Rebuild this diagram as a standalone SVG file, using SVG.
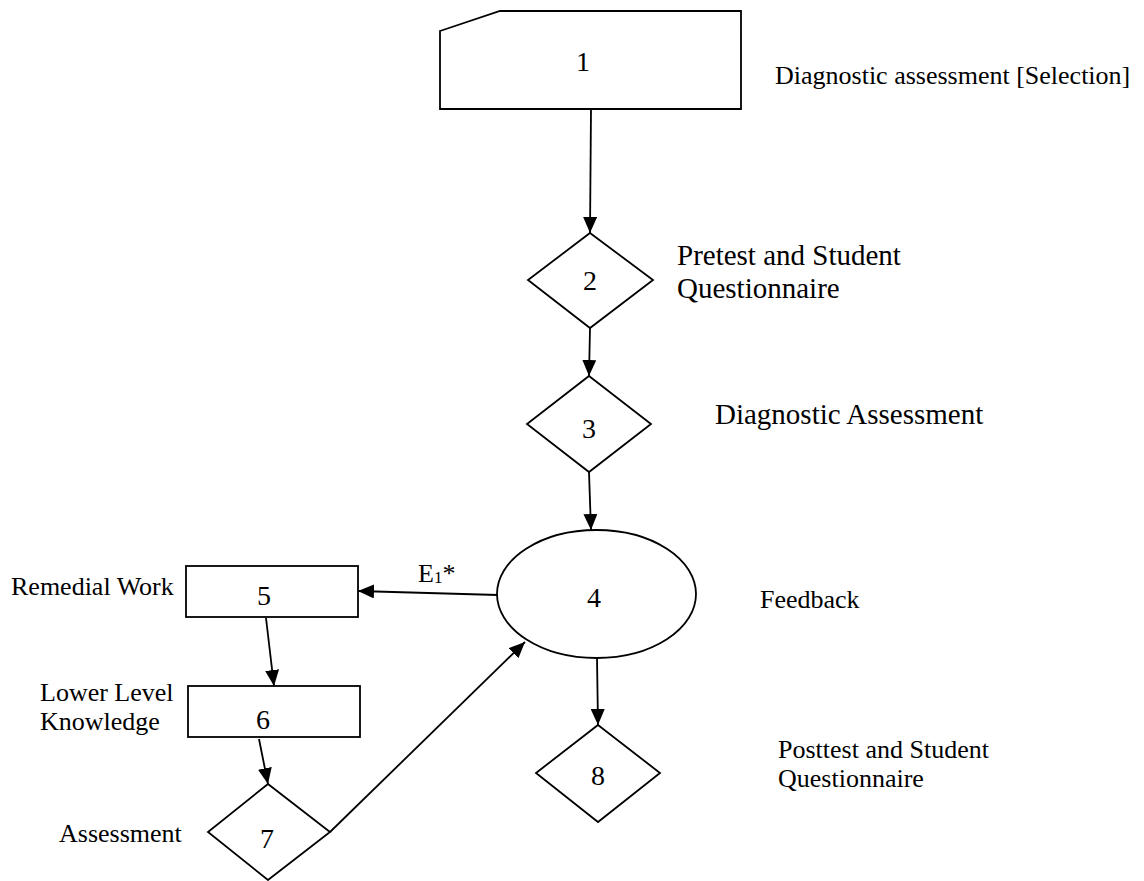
<svg xmlns="http://www.w3.org/2000/svg" width="1144" height="881" viewBox="0 0 1144 881">
<style>
.s{fill:#fff;stroke:#000;stroke-width:1.8}
.c{fill:none;stroke:#000;stroke-width:1.8}
.n{font-family:"Liberation Serif","Times New Roman",serif;font-size:28px;text-anchor:middle;fill:#000}
.t{font-family:"Liberation Serif","Times New Roman",serif;font-size:26px;fill:#000}
.b{font-size:29px}
</style>
<defs>
<marker id="ah" markerUnits="userSpaceOnUse" markerWidth="16" markerHeight="14" refX="16" refY="7" orient="auto">
<path d="M0,0 L16,7 L0,14 z" fill="#000"/>
</marker>
</defs>
<rect width="1144" height="881" fill="#fff"/>
<g id="connectors">
<line class="c" x1="591" y1="109" x2="590" y2="233" marker-end="url(#ah)"/>
<line class="c" x1="590" y1="328" x2="589" y2="376" marker-end="url(#ah)"/>
<line class="c" x1="589" y1="472" x2="591" y2="530" marker-end="url(#ah)"/>
<line class="c" x1="498" y1="595" x2="358" y2="591" marker-end="url(#ah)"/>
<line class="c" x1="266" y1="618" x2="274" y2="686" marker-end="url(#ah)"/>
<line class="c" x1="259" y1="739" x2="268" y2="784" marker-end="url(#ah)"/>
<line class="c" x1="330" y1="832" x2="525" y2="642" marker-end="url(#ah)"/>
<line class="c" x1="597" y1="658" x2="598" y2="725" marker-end="url(#ah)"/>
<text class="t" x="418" y="582">E<tspan font-size="17" dy="1">1</tspan><tspan dy="-1">*</tspan></text>
</g>
<g id="node1">
<polygon class="s" points="440,31 500,11 741,11 741,109 440,109"/>
<text class="n" x="583" y="71" font-size="30">1</text>
<text class="t" x="775" y="84">Diagnostic assessment [Selection]</text>
</g>
<g id="node2">
<polygon class="s" points="590,233 653,280 590,328 528,280"/>
<text class="n" x="590" y="290">2</text>
<text class="t b" x="677" y="265">Pretest and Student</text>
<text class="t b" x="677" y="298">Questionnaire</text>
</g>
<g id="node3">
<polygon class="s" points="589,376 651,424 589,472 527,424"/>
<text class="n" x="589" y="438">3</text>
<text class="t b" x="715" y="424">Diagnostic Assessment</text>
</g>
<g id="node4">
<ellipse class="s" cx="596.5" cy="594" rx="99.5" ry="64"/>
<text class="n" x="594" y="607">4</text>
<text class="t" x="760" y="608" font-size="27">Feedback</text>
</g>
<g id="node5">
<rect class="s" x="186" y="566" width="172" height="51"/>
<text class="n" x="264" y="605">5</text>
<text class="t" x="11" y="595">Remedial Work</text>
</g>
<g id="node6">
<rect class="s" x="188" y="686" width="172" height="51"/>
<text class="n" x="263" y="729">6</text>
<text class="t" x="40" y="701">Lower Level</text>
<text class="t" x="40" y="730">Knowledge</text>
</g>
<g id="node7">
<polygon class="s" points="268,784 330,832 268,880 208,832"/>
<text class="n" x="267" y="848">7</text>
<text class="t" x="59" y="842">Assessment</text>
</g>
<g id="node8">
<polygon class="s" points="598,725 660,773 598,822 536,773"/>
<text class="n" x="598" y="785">8</text>
<text class="t" x="778" y="758">Posttest and Student</text>
<text class="t" x="778" y="787">Questionnaire</text>
</g>
</svg>
